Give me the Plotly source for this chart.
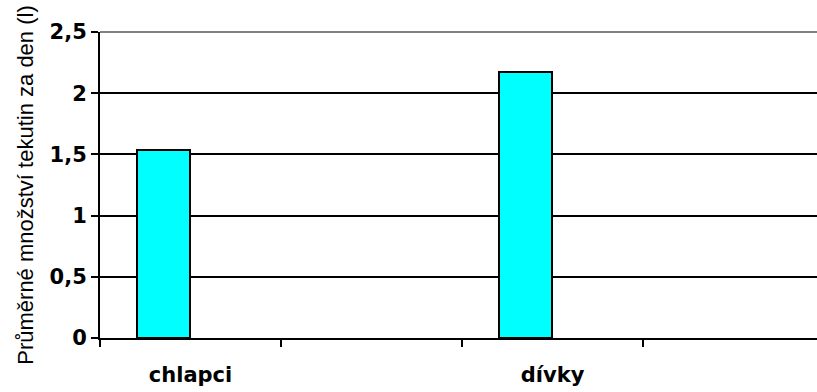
import plotly.graph_objects as go

# Data
categories = ["chlapci", " ", "dívky", "  "]
bar_categories = ["chlapci", "dívky"]
values = [1.54, 2.17]
y_ticks = [0, 0.5, 1, 1.5, 2, 2.5]
y_title = "Průměrné množství tekutin za den (l)"

fig = go.Figure()
fig.add_trace(go.Bar(
    x=bar_categories,
    y=values,
    width=0.293,
    offset=-0.296,
    marker=dict(color="#00FFFF", line=dict(color="black", width=2)),
    showlegend=False,
))

tick_font = dict(family="DejaVu Sans", size=21, color="black", weight="bold")

fig.update_layout(
    width=817, height=392,
    margin=dict(l=100, r=0, t=32, b=54),
    paper_bgcolor="white",
    plot_bgcolor="white",
    separators=", ",
    bargap=0,
    xaxis=dict(
        type="category",
        categoryorder="array",
        categoryarray=categories,
        range=[-0.5, 3.461],
        tickson="boundaries",
        ticks="outside",
        ticklen=7,
        tickwidth=2,
        tickcolor="black",
        showline=True,
        linecolor="black",
        linewidth=2,
        showgrid=False,
        tickfont=tick_font,
        ticklabelstandoff=17,
    ),
    yaxis=dict(
        range=[0, 2.5],
        tickvals=y_ticks,
        ticks="outside",
        ticklen=7,
        tickwidth=2,
        tickcolor="black",
        showline=True,
        linecolor="black",
        linewidth=2,
        showgrid=True,
        gridcolor="black",
        gridwidth=2,
        zeroline=False,
        tickfont=tick_font,
        title=dict(text=y_title, font=dict(family="Liberation Sans", size=22, color="black"), standoff=10),
        automargin=False,
    ),
    shapes=[dict(type="line", xref="paper", yref="paper", x0=0, x1=1, y0=1, y1=1,
                 line=dict(color="#808080", width=2), layer="above")],
)

fig.write_html("out.html")
